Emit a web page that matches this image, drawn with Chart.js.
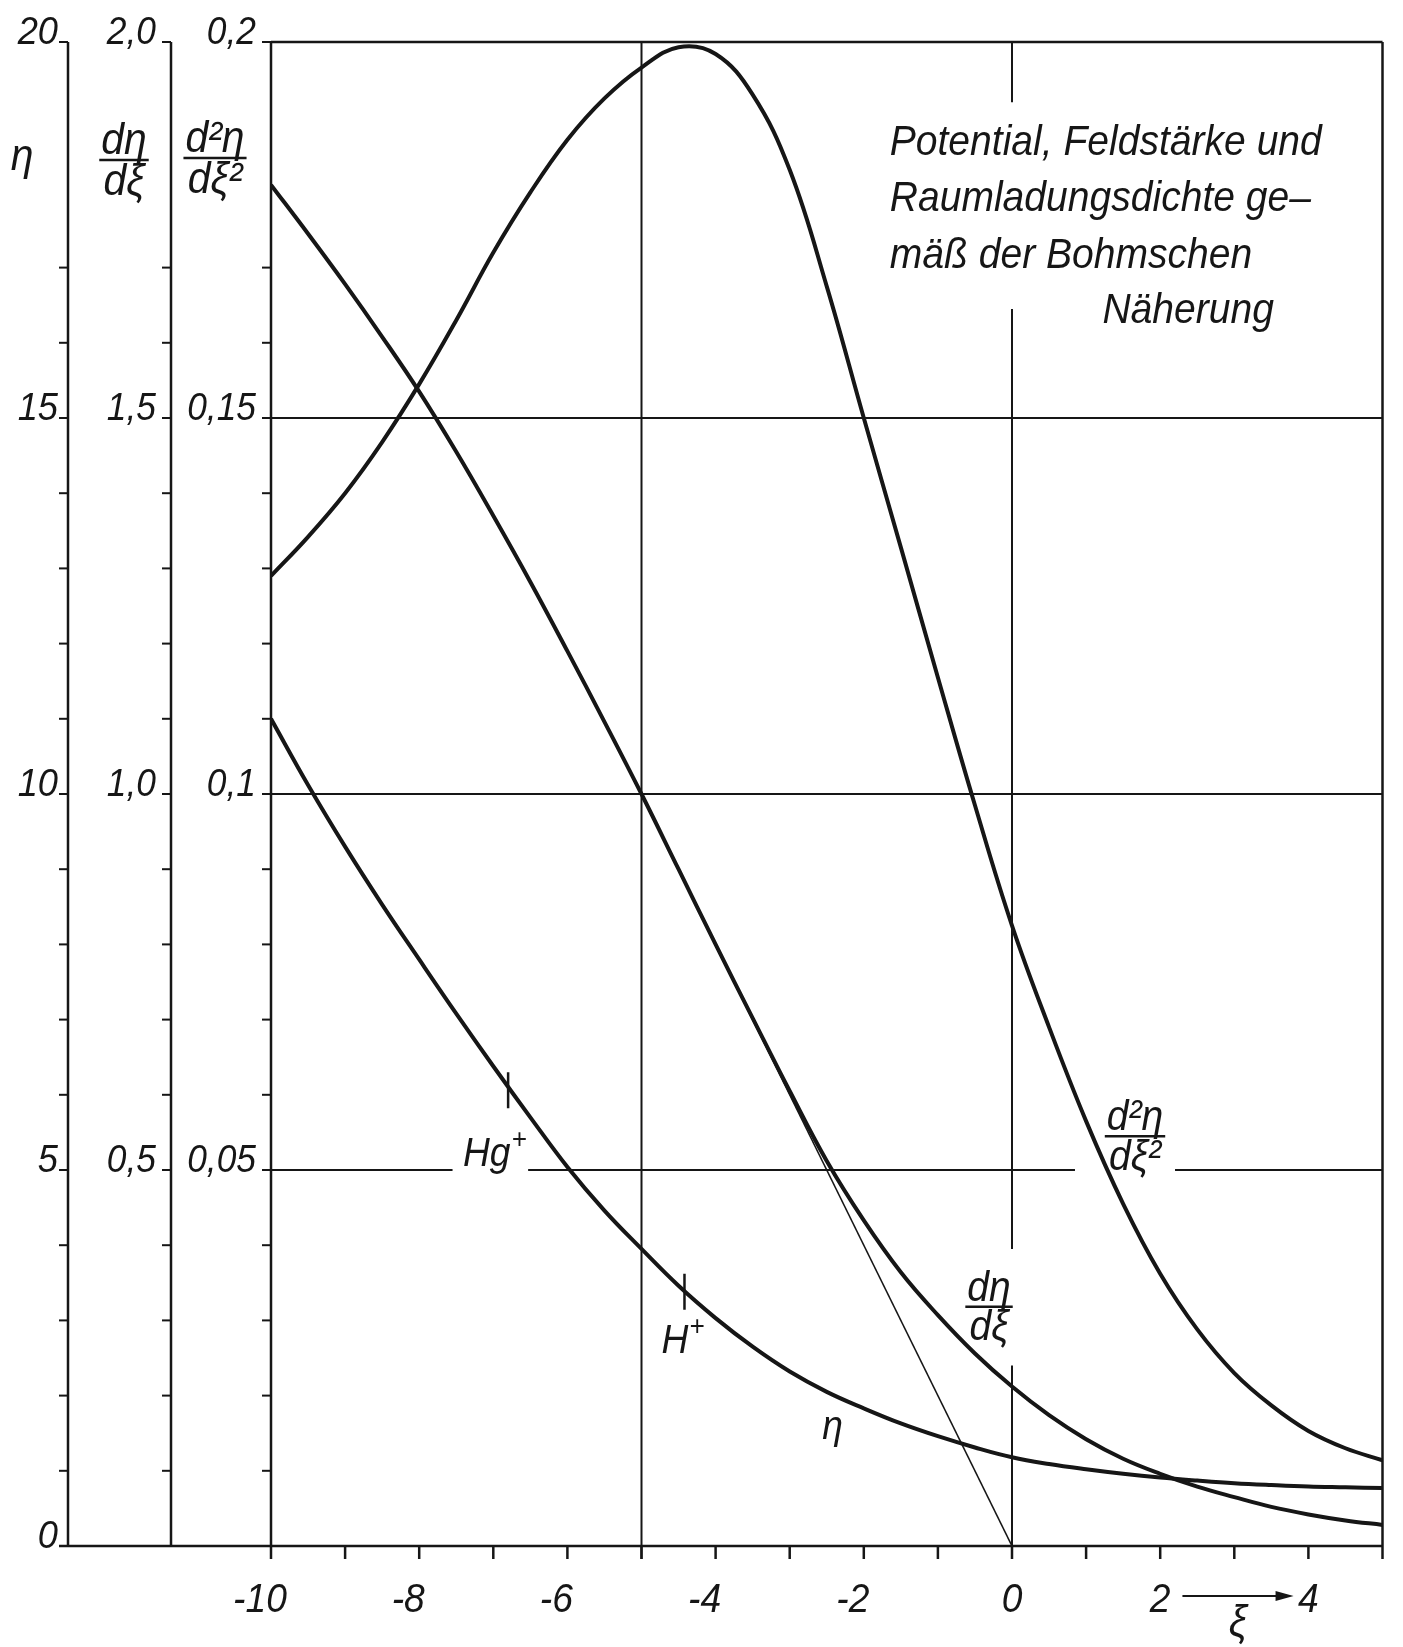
<!DOCTYPE html>
<html>
<head>
<meta charset="utf-8">
<title>Potential, Feldstärke und Raumladungsdichte</title>
<script src="https://cdn.jsdelivr.net/npm/chart.js@4.4.1/dist/chart.umd.min.js"></script>
<style>
  html, body { margin: 0; padding: 0; background: #fff; }
  #wrap { width: 1403px; height: 1647px; }
</style>
</head>
<body>
<div id="wrap"><canvas id="bohm" width="1403" height="1647"></canvas></div>
<script>
// ξ, read at half steps
const xiGrid = [-10, -9.5, -9, -8.5, -8, -7.5, -7, -6.5, -6, -5.5, -5, -4.5, -4, -3.5, -3, -2.5,
                -2, -1.5, -1, -0.5, 0, 0.5, 1, 1.5, 2, 2.5, 3, 3.5, 4, 4.5, 5];
// potential η
const etaValues = [11.0, 10.12, 9.3, 8.53, 7.8, 7.08, 6.38, 5.7, 5.04, 4.46, 3.95, 3.46, 3.03, 2.65, 2.32, 2.05,
                   1.83, 1.63, 1.46, 1.31, 1.18, 1.09, 1.02, 0.96, 0.91, 0.87, 0.835, 0.81, 0.79, 0.78, 0.77];
// field strength dη/dξ
const fieldValues = [1.81, 1.745, 1.678, 1.608, 1.535, 1.455, 1.37, 1.282, 1.19, 1.096, 1.0, 0.90, 0.80, 0.702, 0.605, 0.512,
                     0.433, 0.364, 0.307, 0.256, 0.212, 0.174, 0.142, 0.116, 0.096, 0.079, 0.065, 0.052, 0.042, 0.034, 0.028];
// space charge d²η/dξ²
const rhoValues = [0.129, 0.1342, 0.140, 0.1468, 0.1545, 0.163, 0.172, 0.180, 0.187, 0.1925, 0.1966, 0.1993, 0.1984, 0.193, 0.183, 0.1675,
                   0.150, 0.1328, 0.1155, 0.0985, 0.0825, 0.069, 0.0565, 0.0455, 0.0362, 0.0288, 0.023, 0.0187, 0.0153, 0.013, 0.0114];
// tangent to dη/dξ at its turning point
const tangentXi = [-4.4, 0];
const tangentField = [0.88, 0];
// ion marks on the η curve
const ionXi = [-6.8, -4.42];
const ionEta = [6.06, 3.38];
const ionNames = ['Hg', 'H'];
// axis ticks
const etaTicks = [0, 5, 10, 15, 20];
const etaLabels = ['0', '5', '10', '15', '20'];
const fieldLabels = ['', '0,5', '1,0', '1,5', '2,0'];
const rhoLabels = ['', '0,05', '0,1', '0,15', '0,2'];
const xiTicks = [-10, -8, -6, -4, -2, 0, 2, 4];
const xiLabels = ['-10', '-8', '-6', '-4', '-2', '0', '2', '4'];
const titleLines = ['Potential, Feldstärke und', 'Raumladungsdichte ge\u2013', 'mäß der Bohmschen', 'Näherung'];

const INK = '#161616';
const FONT = '"Liberation Sans", "DejaVu Sans", sans-serif';
const SQUEEZE = 0.93;
const ETA_AXIS_X = 68;
const FIELD_AXIS_X = 171;

function seg(ctx, x1, y1, x2, y2) {
    ctx.beginPath();
    ctx.moveTo(x1, y1);
    ctx.lineTo(x2, y2);
    ctx.stroke();
}

function write(ctx, s, px, py, size, align) {
    ctx.save();
    ctx.translate(px, py);
    ctx.scale(SQUEEZE, 1);
    ctx.font = 'italic ' + size + 'px ' + FONT;
    ctx.textAlign = align || 'left';
    ctx.textBaseline = 'alphabetic';
    ctx.fillStyle = INK;
    ctx.fillText(s, 0, 0);
    ctx.restore();
}

function textWidth(ctx, s, size) {
    ctx.save();
    ctx.font = 'italic ' + size + 'px ' + FONT;
    const w = ctx.measureText(s).width * SQUEEZE;
    ctx.restore();
    return w;
}

function fraction(ctx, cx, barY, num, den, size) {
    const w = Math.max(textWidth(ctx, num, size), textWidth(ctx, den, size)) + 4;
    ctx.save();
    ctx.strokeStyle = INK;
    ctx.lineWidth = 2.5;
    seg(ctx, cx - w / 2, barY, cx + w / 2, barY);
    ctx.restore();
    write(ctx, num, cx, barY - 6, size, 'center');
    write(ctx, den, cx, barY + size * 0.8, size, 'center');
}

const paperPlugin = {
    id: 'paper',
    beforeDraw(chart) {
        const ctx = chart.ctx;
        ctx.save();
        ctx.fillStyle = '#fff';
        ctx.fillRect(0, 0, chart.width, chart.height);
        ctx.restore();
    },
    beforeDatasetsDraw(chart) {
        const { ctx, scales: { x, y } } = chart;
        const left = x.getPixelForValue(-10), right = x.getPixelForValue(5);
        const top = y.getPixelForValue(20), bottom = y.getPixelForValue(0);
        ctx.save();
        ctx.strokeStyle = INK;

        // frame and the three value axes
        ctx.lineWidth = 2.5;
        seg(ctx, left, top, right, top);
        seg(ctx, ETA_AXIS_X - 9, bottom, right, bottom);
        [ETA_AXIS_X, FIELD_AXIS_X, left, right].forEach(px => seg(ctx, px, top, px, bottom));

        // small ticks on the left axes (none at 18, 19 where the symbols stand)
        ctx.lineWidth = 2;
        for (let v = 0; v <= 20; v++) {
            if (v === 18 || v === 19) continue;
            const py = y.getPixelForValue(v);
            [ETA_AXIS_X, FIELD_AXIS_X, left].forEach(px => seg(ctx, px - 9, py, px, py));
        }
        // ticks under the ξ axis
        ctx.lineWidth = 2.5;
        for (let k = -10; k <= 5; k++) {
            const px = x.getPixelForValue(k);
            seg(ctx, px, bottom, px, bottom + 13);
        }

        // grid, with gaps left for the lettering
        ctx.lineWidth = 2;
        seg(ctx, left, y.getPixelForValue(10), right, y.getPixelForValue(10));
        seg(ctx, left, y.getPixelForValue(15), right, y.getPixelForValue(15));
        [[-10, -7.55], [-6.53, 0.85], [2.2, 5]].forEach(([a, b]) =>
            seg(ctx, x.getPixelForValue(a), y.getPixelForValue(5), x.getPixelForValue(b), y.getPixelForValue(5)));
        seg(ctx, x.getPixelForValue(-5), top, x.getPixelForValue(-5), bottom + 13);
        const x0 = x.getPixelForValue(0);
        [[20, 19.2], [16.45, 3.95], [2.4, 0]].forEach(([a, b]) =>
            seg(ctx, x0, y.getPixelForValue(a), x0, y.getPixelForValue(b)));
        ctx.restore();
    },
    afterDatasetsDraw(chart) {
        const { ctx, scales: { x, y } } = chart;
        const left = x.getPixelForValue(-10);
        const bottom = y.getPixelForValue(0);

        // scale numbers on the left
        etaTicks.forEach((v, i) => {
            const py = y.getPixelForValue(v) + 2;
            write(ctx, etaLabels[i], ETA_AXIS_X - 10, py, 39, 'right');
            if (fieldLabels[i]) write(ctx, fieldLabels[i], FIELD_AXIS_X - 15, py, 38, 'right');
            if (rhoLabels[i]) write(ctx, rhoLabels[i], left - 15, py, 38, 'right');
        });

        // symbols above the left axes
        write(ctx, 'η', 22, 170, 44, 'center');
        fraction(ctx, 124, 160, 'dη', 'dξ', 44);
        fraction(ctx, 215, 158, 'd²η', 'dξ²', 44);

        // ξ numbers
        xiTicks.forEach((v, i) => {
            const px = x.getPixelForValue(v) - (v < 0 ? 11 : 0);
            write(ctx, xiLabels[i], px, bottom + 66, 40, 'center');
        });
        // arrow and ξ
        ctx.save();
        ctx.strokeStyle = INK;
        ctx.fillStyle = INK;
        ctx.lineWidth = 2;
        const ax1 = x.getPixelForValue(2.3), ax2 = x.getPixelForValue(3.8), ay = bottom + 50;
        seg(ctx, ax1, ay, ax2 - 12, ay);
        ctx.beginPath();
        ctx.moveTo(ax2, ay);
        ctx.lineTo(ax2 - 18, ay - 5);
        ctx.lineTo(ax2 - 18, ay + 5);
        ctx.closePath();
        ctx.fill();
        ctx.restore();
        write(ctx, 'ξ', x.getPixelForValue(3.05), bottom + 90, 44, 'center');

        // title block
        const tx = x.getPixelForValue(-1.65);
        write(ctx, titleLines[0], tx, y.getPixelForValue(18.5), 42, 'left');
        write(ctx, titleLines[1], tx, y.getPixelForValue(17.75), 42, 'left');
        write(ctx, titleLines[2], tx, y.getPixelForValue(17.0), 42, 'left');
        write(ctx, titleLines[3], x.getPixelForValue(1.22), y.getPixelForValue(16.26), 42, 'left');

        // curve names
        write(ctx, 'η', x.getPixelForValue(-2.42), y.getPixelForValue(1.42), 40, 'center');
        fraction(ctx, x.getPixelForValue(-0.31), y.getPixelForValue(3.18), 'dη', 'dξ', 42);
        fraction(ctx, x.getPixelForValue(1.66), y.getPixelForValue(5.45), 'd²η', 'dξ²', 42);

        // ion names with superscript plus
        const ionText = [[-7.41, 5.05], [-4.73, 2.57]];
        ionNames.forEach((name, i) => {
            const px = x.getPixelForValue(ionText[i][0]);
            const py = y.getPixelForValue(ionText[i][1]);
            write(ctx, name, px, py, 40, 'left');
            write(ctx, '+', px + textWidth(ctx, name, 40) + 1, py - 18, 28, 'left');
        });
    }
};

const curve = {
    borderColor: INK,
    borderWidth: 4,
    pointRadius: 0,
    fill: false,
    tension: 0.4
};

function points(ys) {
    return xiGrid.map((v, i) => ({ x: v, y: ys[i] }));
}

new Chart(document.getElementById('bohm'), {
    type: 'line',
    data: {
        datasets: [
            Object.assign({ label: 'η', yAxisID: 'y', data: points(etaValues) }, curve),
            Object.assign({ label: 'dη/dξ', yAxisID: 'yField', data: points(fieldValues) }, curve),
            Object.assign({ label: 'd²η/dξ²', yAxisID: 'yRho', data: points(rhoValues) }, curve),
            {
                label: 'Tangente', yAxisID: 'yField',
                data: tangentXi.map((v, i) => ({ x: v, y: tangentField[i] })),
                borderColor: INK, borderWidth: 1.6, pointRadius: 0, tension: 0
            },
            {
                type: 'scatter', label: 'Ionen', yAxisID: 'y',
                data: ionXi.map((v, i) => ({ x: v, y: ionEta[i] })),
                showLine: false,
                pointStyle: 'line', rotation: 90, pointRadius: 18,
                borderColor: INK, pointBorderColor: INK,
                borderWidth: 2.5, pointBorderWidth: 2.5
            }
        ]
    },
    options: {
        responsive: false,
        devicePixelRatio: 1,
        animation: false,
        events: [],
        layout: { padding: { left: 271, right: 15, top: 42, bottom: 101 } },
        scales: {
            x: { type: 'linear', min: -10, max: 5, display: false },
            y: { type: 'linear', min: 0, max: 20, display: false },
            yField: { type: 'linear', min: 0, max: 2, display: false },
            yRho: { type: 'linear', min: 0, max: 0.2, display: false }
        },
        plugins: {
            legend: { display: false },
            tooltip: { enabled: false }
        }
    },
    plugins: [paperPlugin]
});
</script>
</body>
</html>
